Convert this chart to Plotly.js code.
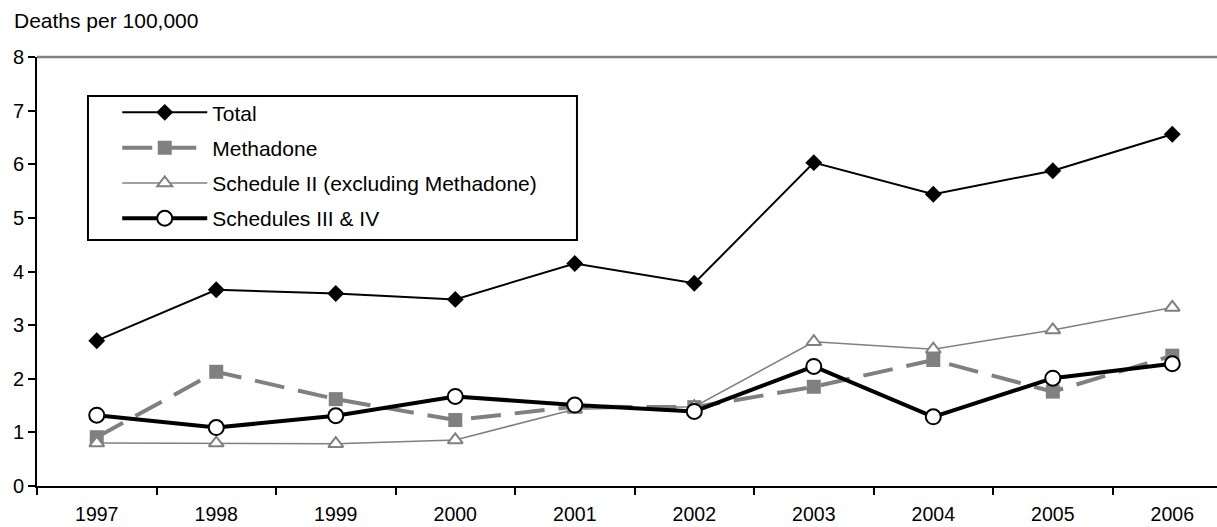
<!DOCTYPE html>
<html>
<head>
<meta charset="utf-8">
<script src="https://cdn.plot.ly/plotly-3.0.1.min.js"></script>
<style>html,body{margin:0;padding:0;background:#fff;}#chart{width:1217px;height:527px;}</style>
</head>
<body>
<div id="chart"></div>
<script>
var years = ['1997','1998','1999','2000','2001','2002','2003','2004','2005','2006'];
var yTickVals = [0,1,2,3,4,5,6,7,8];
var total = [2.71,3.66,3.59,3.48,4.15,3.78,6.03,5.44,5.88,6.56];
var methadone = [0.91,2.13,1.62,1.23,1.48,1.47,1.85,2.35,1.76,2.43];
var scheduleII = [0.80,0.80,0.79,0.86,1.43,1.48,2.69,2.55,2.91,3.33];
var scheduleIIIIV = [1.32,1.09,1.31,1.67,1.51,1.39,2.23,1.29,2.01,2.28];
var names = ['Total','Methadone','Schedule II (excluding Methadone)','Schedules III & IV'];

var FONT = 'Liberation Sans, Arial, sans-serif';

var traces = [
  {x: years, y: total, name: names[0], type: 'scatter', mode: 'lines+markers', legendgroup: 'a',
   line: {color: '#000000', width: 2},
   marker: {symbol: 'diamond', size: 13, color: '#000000'}},
  {x: years, y: methadone, name: names[1], type: 'scatter', mode: 'lines+markers', legendgroup: 'b',
   line: {color: '#808080', width: 4, dash: '30px,14px'},
   marker: {symbol: 'square', size: 14, color: '#808080'}},
  {x: years, y: scheduleII, name: names[2], type: 'scatter', mode: 'lines+markers', legendgroup: 'c',
   line: {color: '#808080', width: 1.5},
   marker: {symbol: 'triangle-up', size: 13, color: '#ffffff', line: {color: '#808080', width: 2}}},
  {x: years, y: scheduleIIIIV, name: names[3], type: 'scatter', mode: 'lines+markers', legendgroup: 'd',
   line: {color: '#000000', width: 4},
   marker: {symbol: 'circle', size: 15, color: '#ffffff', line: {color: '#000000', width: 2}}}
];

var layout = {
  width: 1217, height: 527,
  margin: {l: 37, r: 0, t: 57, b: 41, pad: 0},
  paper_bgcolor: '#ffffff', plot_bgcolor: '#ffffff',
  font: {family: FONT, size: 20, color: '#000000'},
  showlegend: true,
  legend: {
    x: 0.068, y: 0.918, xanchor: 'left', yanchor: 'top',
    borderwidth: 0, bgcolor: 'rgba(0,0,0,0)',
    font: {family: FONT, size: 21, color: '#000000'},
    itemwidth: 85, tracegroupgap: 5, traceorder: 'grouped',
    itemclick: false, itemdoubleclick: false
  },
  xaxis: {
    type: 'category', range: [-0.5, 9.374], fixedrange: true,
    showline: true, linecolor: '#000000', linewidth: 2,
    ticks: 'outside', tickson: 'boundaries', ticklen: 7, tickwidth: 2, tickcolor: '#000000',
    showgrid: false, zeroline: false, ticklabelstandoff: 10,
    tickfont: {family: FONT, size: 19.5, color: '#000000'}
  },
  yaxis: {
    range: [0, 8], fixedrange: true, tickvals: yTickVals,
    showline: true, linecolor: '#000000', linewidth: 2,
    ticks: 'outside', ticklen: 7, tickwidth: 2, tickcolor: '#000000',
    showgrid: false, zeroline: false,
    tickfont: {family: FONT, size: 20, color: '#000000'}
  },
  shapes: [
    {type: 'line', xref: 'paper', yref: 'paper', x0: 0, x1: 1, y0: 1, y1: 1,
     line: {color: '#808080', width: 2.5}, layer: 'above'},
    {type: 'rect', xref: 'paper', yref: 'paper', x0: 0.0432, x1: 0.4576, y0: 0.909, y1: 0.5734,
     line: {color: '#000000', width: 2}, fillcolor: '#ffffff', layer: 'below'}
  ],
  annotations: [
    {text: 'Deaths per 100,000', xref: 'paper', yref: 'paper', x: -0.0212, y: 1.0862,
     xanchor: 'left', yanchor: 'middle', showarrow: false,
     font: {family: FONT, size: 21, color: '#000000'}}
  ]
};

Plotly.newPlot('chart', traces, layout, {displayModeBar: false, staticPlot: true});
</script>
</body>
</html>
